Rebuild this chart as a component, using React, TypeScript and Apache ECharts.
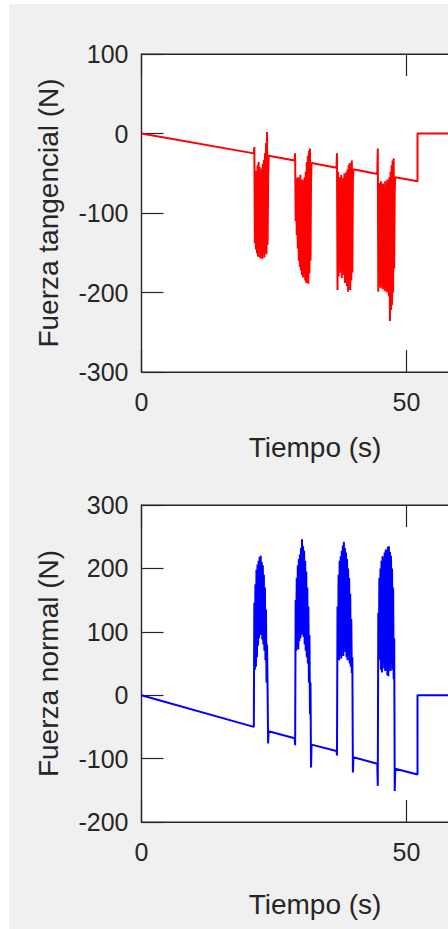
import { useEffect, useRef } from "react";
import * as echarts from "echarts";

type Pt = [number, number];

// Time axis (s)
const T_MAX = 65.5;
const timeTickStep = 50;

// Sample instants of the four loading bursts (s)
const burst1Time = [21.3, 21.4, 21.5, 21.6, 21.7, 21.8, 21.9, 22.0, 22.1, 22.2, 22.3, 22.4, 22.5, 22.6, 22.7, 22.8, 22.9, 23.0, 23.1, 23.2, 23.3, 23.4, 23.5, 23.6, 23.7, 23.8, 23.9];
const burst2Time = [29.0, 29.1, 29.2, 29.3, 29.4, 29.5, 29.6, 29.7, 29.8, 29.9, 30.0, 30.1, 30.2, 30.3, 30.4, 30.5, 30.6, 30.7, 30.8, 30.9, 31.0, 31.1, 31.2, 31.3, 31.4, 31.5, 31.6, 31.7, 31.8, 31.9, 32.0];
const burst3Time = [36.9, 37.0, 37.1, 37.2, 37.3, 37.4, 37.5, 37.6, 37.7, 37.8, 37.9, 38.0, 38.1, 38.2, 38.3, 38.4, 38.5, 38.6, 38.7, 38.8, 38.9, 39.0, 39.1, 39.2, 39.3, 39.4, 39.5, 39.6, 39.7, 39.8, 39.9];
const burst4Time = [44.6, 44.7, 44.8, 44.9, 45.0, 45.1, 45.2, 45.3, 45.4, 45.5, 45.6, 45.7, 45.8, 45.9, 46.0, 46.1, 46.2, 46.3, 46.4, 46.5, 46.6, 46.7, 46.8, 46.9, 47.0, 47.1, 47.2, 47.3, 47.4, 47.5, 47.6, 47.7, 47.8];

// Tangential force (N): drifting baseline between bursts, then release to zero
const tangentialRamp0: Pt[] = [[0, 0], [21.2, -25]];
const tangentialBurst1 = [-17, -138, -52, -146, -47, -151, -40, -155, -36, -149, -42, -157, -50, -153, -44, -158, -38, -150, -33, -156, -25, -148, -12, -152, 2, -140, -60];
const tangentialRamp1: Pt[] = [[24.0, -28], [28.9, -34]];
const tangentialBurst2 = [-25, -110, -56, -128, -58, -145, -55, -160, -60, -168, -52, -172, -62, -178, -58, -181, -66, -176, -55, -185, -48, -188, -36, -183, -28, -189, -22, -176, -19, -160, -60];
const tangentialRamp2: Pt[] = [[32.1, -37], [36.8, -43]];
const tangentialBurst3 = [-25, -197, -48, -180, -55, -168, -58, -175, -52, -182, -60, -170, -56, -178, -50, -188, -55, -183, -48, -192, -45, -199, -40, -190, -37, -197, -42, -185, -34, -175, -60];
const tangentialRamp3: Pt[] = [[40.0, -45], [44.5, -51]];
const tangentialBurst4 = [-19, -199, -62, -190, -64, -194, -60, -188, -66, -196, -63, -193, -67, -198, -60, -195, -65, -200, -58, -197, -62, -205, -55, -236, -48, -222, -40, -216, -34, -200, -31, -170, -70];
const tangentialRamp4: Pt[] = [[47.9, -55], [52.1, -60]];
const tangentialTail: Pt[] = [[52.1, 0], [65.5, 0]];

// Normal force (N)
const normalRamp0: Pt[] = [[0, 0], [21.2, -50]];
const normalBurst1 = [146, 40, 175, 45, 198, 60, 206, 78, 212, 90, 218, 99, 220, 95, 210, 88, 205, 80, 190, 70, 170, 55, 135, 20, 80, 10, -76];
const normalRamp1: Pt[] = [[24.0, -57], [28.9, -68]];
const normalBurst2 = [-79, 150, 70, 185, 80, 205, 72, 215, 85, 222, 90, 232, 95, 246, 100, 235, 92, 228, 80, 212, 70, 195, 60, 170, 50, 140, 20, 95, -30, 20, -114];
const normalRamp2: Pt[] = [[32.1, -78], [36.8, -88]];
const normalBurst3 = [-95, 140, 60, 190, 55, 212, 65, 219, 58, 228, 70, 236, 62, 242, 75, 232, 68, 225, 60, 215, 55, 200, 62, 185, 50, 160, 45, 120, 35, 60, -122];
const normalRamp3: Pt[] = [[40.0, -98], [44.5, -108]];
const normalBurst4 = [-143, 130, 55, 185, 62, 200, 40, 212, 36, 219, 50, 214, 42, 225, 38, 230, 55, 228, 32, 234, 30, 235, 45, 226, 38, 220, 50, 200, 40, 170, 25, 90, -151];
const normalRamp4: Pt[] = [[47.9, -116], [52.1, -125]];
const normalTail: Pt[] = [[52.1, 0], [65.5, 0]];

// Axis ranges (N)
const tangentialRange = { min: -300, max: 100, step: 100 };
const normalRange = { min: -200, max: 300, step: 100 };

const pairs = (t: number[], v: number[]): Pt[] => t.map((x, i) => [x, v[i]] as Pt);

const tangentialData: Pt[] = [
  ...tangentialRamp0,
  ...pairs(burst1Time, tangentialBurst1),
  ...tangentialRamp1,
  ...pairs(burst2Time, tangentialBurst2),
  ...tangentialRamp2,
  ...pairs(burst3Time, tangentialBurst3),
  ...tangentialRamp3,
  ...pairs(burst4Time, tangentialBurst4),
  ...tangentialRamp4,
  ...tangentialTail,
];

const normalData: Pt[] = [
  ...normalRamp0,
  ...pairs(burst1Time, normalBurst1),
  ...normalRamp1,
  ...pairs(burst2Time, normalBurst2),
  ...normalRamp2,
  ...pairs(burst3Time, normalBurst3),
  ...normalRamp3,
  ...pairs(burst4Time, normalBurst4),
  ...normalRamp4,
  ...normalTail,
];

const FONT = "'Liberation Sans', Arial, Helvetica, sans-serif";
const INK = "#262626";
const FIG_BG = "#f0f0f0";

const CHART_W = 520;
const CHART_H = 929;
const PLOT_LEFT = 141.5;
const PLOT_W = 347;

function timeAxis(gridIndex: number, position: "top" | "bottom", nameGap: number) {
  const bottom = position === "bottom";
  return {
    type: "value",
    gridIndex,
    position,
    min: 0,
    max: T_MAX,
    interval: timeTickStep,
    name: bottom ? "Tiempo (s)" : "",
    nameLocation: "middle",
    nameGap,
    nameTextStyle: { fontFamily: FONT, fontSize: 28, color: INK },
    axisLine: { show: true, onZero: false, lineStyle: { color: INK, width: 1.2 } },
    axisTick: { show: true, inside: true, length: 22, lineStyle: { color: INK, width: 1.2 } },
    axisLabel: {
      show: bottom,
      margin: 17,
      fontFamily: FONT,
      fontSize: 25,
      color: INK,
      showMaxLabel: false,
    },
    splitLine: { show: false },
  };
}

function forceAxis(gridIndex: number, name: string, r: { min: number; max: number; step: number }, nameGap: number) {
  return {
    type: "value",
    gridIndex,
    position: "left",
    min: r.min,
    max: r.max,
    interval: r.step,
    name,
    nameLocation: "middle",
    nameRotate: 90,
    nameGap,
    nameTextStyle: { fontFamily: FONT, fontSize: 28, color: INK },
    axisLine: { show: true, onZero: false, lineStyle: { color: INK, width: 1.2 } },
    axisTick: { show: true, inside: true, length: 22, lineStyle: { color: INK, width: 1.2 } },
    axisLabel: { margin: 13, fontFamily: FONT, fontSize: 25, color: INK },
    splitLine: { show: false },
  };
}

export default function App() {
  const ref = useRef<HTMLDivElement>(null);

  useEffect(() => {
    if (!ref.current) return;
    const chart = echarts.init(ref.current, undefined, { renderer: "svg" });
    chart.setOption({
      animation: false,
      backgroundColor: FIG_BG,
      textStyle: { fontFamily: FONT },
      graphic: [
        { type: "rect", left: 0, top: 0, shape: { x: 0, y: 0, width: 9, height: CHART_H }, style: { fill: "#ffffff" }, silent: true },
        { type: "rect", left: 0, top: 0, shape: { x: 0, y: 0, width: CHART_W, height: 4 }, style: { fill: "#ffffff" }, silent: true },
      ],
      grid: [
        { left: PLOT_LEFT, top: 54, width: PLOT_W, height: 318, show: true, backgroundColor: "#ffffff", borderColor: INK, borderWidth: 1.2 },
        { left: PLOT_LEFT, top: 505, width: PLOT_W, height: 317, show: true, backgroundColor: "#ffffff", borderColor: INK, borderWidth: 1.2 },
      ],
      xAxis: [
        timeAxis(0, "bottom", 61),
        timeAxis(0, "top", 0),
        timeAxis(1, "bottom", 68),
        timeAxis(1, "top", 0),
      ],
      yAxis: [
        forceAxis(0, "Fuerza tangencial (N)", tangentialRange, 79),
        forceAxis(1, "Fuerza normal (N)", normalRange, 79),
      ],
      series: [
        {
          name: "Fuerza tangencial",
          type: "line",
          xAxisIndex: 0,
          yAxisIndex: 0,
          data: tangentialData,
          showSymbol: false,
          symbol: "none",
          lineStyle: { color: "#ff0000", width: 2 },
          clip: true,
        },
        {
          name: "Fuerza normal",
          type: "line",
          xAxisIndex: 2,
          yAxisIndex: 1,
          data: normalData,
          showSymbol: false,
          symbol: "none",
          lineStyle: { color: "#0000ff", width: 2 },
          clip: true,
        },
      ],
    });
    return () => chart.dispose();
  }, []);

  return (
    <div style={{ position: "fixed", left: 0, top: 0, width: 448, height: 929, overflow: "hidden", background: "#ffffff" }}>
      <div ref={ref} style={{ width: CHART_W, height: CHART_H }} />
    </div>
  );
}
